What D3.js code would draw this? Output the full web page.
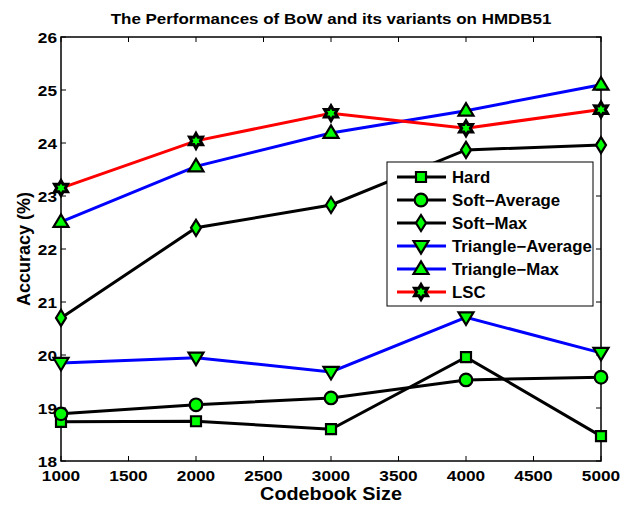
<script src="https://d3js.org/d3.v7.min.js"></script>
<style>
  body { margin: 0; background: #fff; }
  svg { font-family: Arial, "Liberation Sans", sans-serif; font-weight: bold; }
</style>
<body></body>
<script>
  // data
  var sizes = [1000, 2000, 3000, 4000, 5000];
  var hard = [18.74, 18.75, 18.60, 19.96, 18.47];
  var softAvg = [18.89, 19.06, 19.19, 19.53, 19.58];
  var softMax = [20.70, 22.40, 22.83, 23.87, 23.96];
  var triAvg = [19.85, 19.95, 19.68, 20.71, 20.04];
  var triMax = [22.51, 23.56, 24.19, 24.61, 25.10];
  var lsc = [23.15, 24.04, 24.56, 24.28, 24.63];
  var xTicks = [1000, 1500, 2000, 2500, 3000, 3500, 4000, 4500, 5000];
  var yTicks = [18, 19, 20, 21, 22, 23, 24, 25, 26];

  var series = [
    {name: 'Hard', values: hard, color: '#000', marker: 'square'},
    {name: 'Soft\u2212Average', values: softAvg, color: '#000', marker: 'circle'},
    {name: 'Soft\u2212Max', values: softMax, color: '#000', marker: 'diamond'},
    {name: 'Triangle\u2212Average', values: triAvg, color: '#0000ff', marker: 'down'},
    {name: 'Triangle\u2212Max', values: triMax, color: '#0000ff', marker: 'up'},
    {name: 'LSC', values: lsc, color: '#ff0000', marker: 'star'}
  ];

  var width = 620, height = 509;
  var mLeft = 61, mRight = 601, mTop = 37, mBottom = 461;
  var svg = d3.select('body').append('svg').attr('width', width).attr('height', height);

  var x = d3.scaleLinear().domain([1000, 5000]).range([mLeft, mRight]);
  var y = d3.scaleLinear().domain([18, 26]).range([mBottom, mTop]);

  // text helper, slightly widened like the original
  function txt(g, tx, ty, str, size, anchor, sx, rot) {
    return g.append('text')
      .attr('transform', 'translate(' + tx + ',' + ty + ')' + (rot ? ' rotate(' + rot + ')' : '') + ' scale(' + sx + ',1)')
      .attr('text-anchor', anchor).attr('font-size', size).text(str);
  }

  // axes box with inward ticks
  var tl = 5;
  var ax = svg.append('g').attr('stroke', '#000').attr('stroke-width', 1);
  xTicks.forEach(function(t) {
    ax.append('line').attr('x1', x(t)).attr('x2', x(t)).attr('y1', mBottom).attr('y2', mBottom - tl);
    ax.append('line').attr('x1', x(t)).attr('x2', x(t)).attr('y1', mTop).attr('y2', mTop + tl);
  });
  yTicks.forEach(function(t) {
    ax.append('line').attr('x1', mLeft).attr('x2', mLeft + tl).attr('y1', y(t)).attr('y2', y(t));
    ax.append('line').attr('x1', mRight).attr('x2', mRight - tl).attr('y1', y(t)).attr('y2', y(t));
  });
  svg.append('rect').attr('x', mLeft).attr('y', mTop).attr('width', mRight - mLeft).attr('height', mBottom - mTop)
    .attr('fill', 'none').attr('stroke', '#000').attr('stroke-width', 1.5);

  xTicks.forEach(function(t) { txt(svg, x(t), mBottom + 20, t, 15, 'middle', 1.15); });
  yTicks.forEach(function(t) { txt(svg, mLeft - 4, y(t) + 6, t, 15, 'end', 1.15); });

  txt(svg, (mLeft + mRight) / 2, 24, 'The Performances of BoW and its variants on HMDB51', 15, 'middle', 1.13);
  txt(svg, (mLeft + mRight) / 2, 500, 'Codebook Size', 18, 'middle', 1.1);
  txt(svg, 30, (mTop + mBottom) / 2, 'Accuracy (%)', 18, 'middle', 1.0, -90);

  function drawMarker(g, type, cx, cy) {
    if (type === 'circle') {
      g.append('circle').attr('cx', cx).attr('cy', cy).attr('r', 6.3)
        .attr('fill', '#00ff00').attr('stroke', '#000').attr('stroke-width', 2.2);
      return;
    }
    var p;
    if (type === 'square') p = 'M-5,-5H5V5H-5Z';
    else if (type === 'diamond') p = 'M0,-8L5,0L0,8L-5,0Z';
    else if (type === 'down') p = 'M-7.5,-5H7.5L0,7.5Z';
    else if (type === 'up') p = 'M-7.5,5H7.5L0,-7.5Z';
    else {
      // hexagram
      var pts = [];
      for (var i = 0; i < 12; i++) {
        var a = -Math.PI / 2 + i * Math.PI / 6;
        var r = i % 2 === 0 ? 7.5 : 4.3;
        pts.push([r * Math.cos(a), r * Math.sin(a)]);
      }
      p = 'M' + pts.map(function(q) {return q.join(',')}).join('L') + 'Z';
    }
    g.append('path').attr('d', p).attr('transform', 'translate(' + cx + ',' + cy + ')')
      .attr('fill', '#00ff00').attr('stroke', '#000')
      .attr('stroke-width', type === 'star' ? 3 : 2.2).attr('stroke-linejoin', 'miter');
  }

  var line = d3.line().x(function(d, i) {return x(sizes[i])}).y(function(d) {return y(d)});
  series.forEach(function(s) {
    svg.append('path').attr('d', line(s.values)).attr('fill', 'none')
      .attr('stroke', s.color).attr('stroke-width', 3).attr('stroke-linejoin', 'miter');
  });
  series.forEach(function(s) {
    var g = svg.append('g');
    s.values.forEach(function(v, i) { drawMarker(g, s.marker, x(sizes[i]), y(v)); });
  });

  // legend
  var lg = svg.append('g');
  lg.append('rect').attr('x', 387).attr('y', 162).attr('width', 206).attr('height', 144)
    .attr('fill', '#fff').attr('stroke', '#000').attr('stroke-width', 1);
  series.forEach(function(s, i) {
    var ly = 177 + i * 23;
    lg.append('line').attr('x1', 397).attr('x2', 446).attr('y1', ly).attr('y2', ly)
      .attr('stroke', s.color).attr('stroke-width', 3);
    drawMarker(lg, s.marker, 421, ly);
    txt(lg, 452, ly + 6, s.name, 16, 'start', 1.05);
  });
</script>
